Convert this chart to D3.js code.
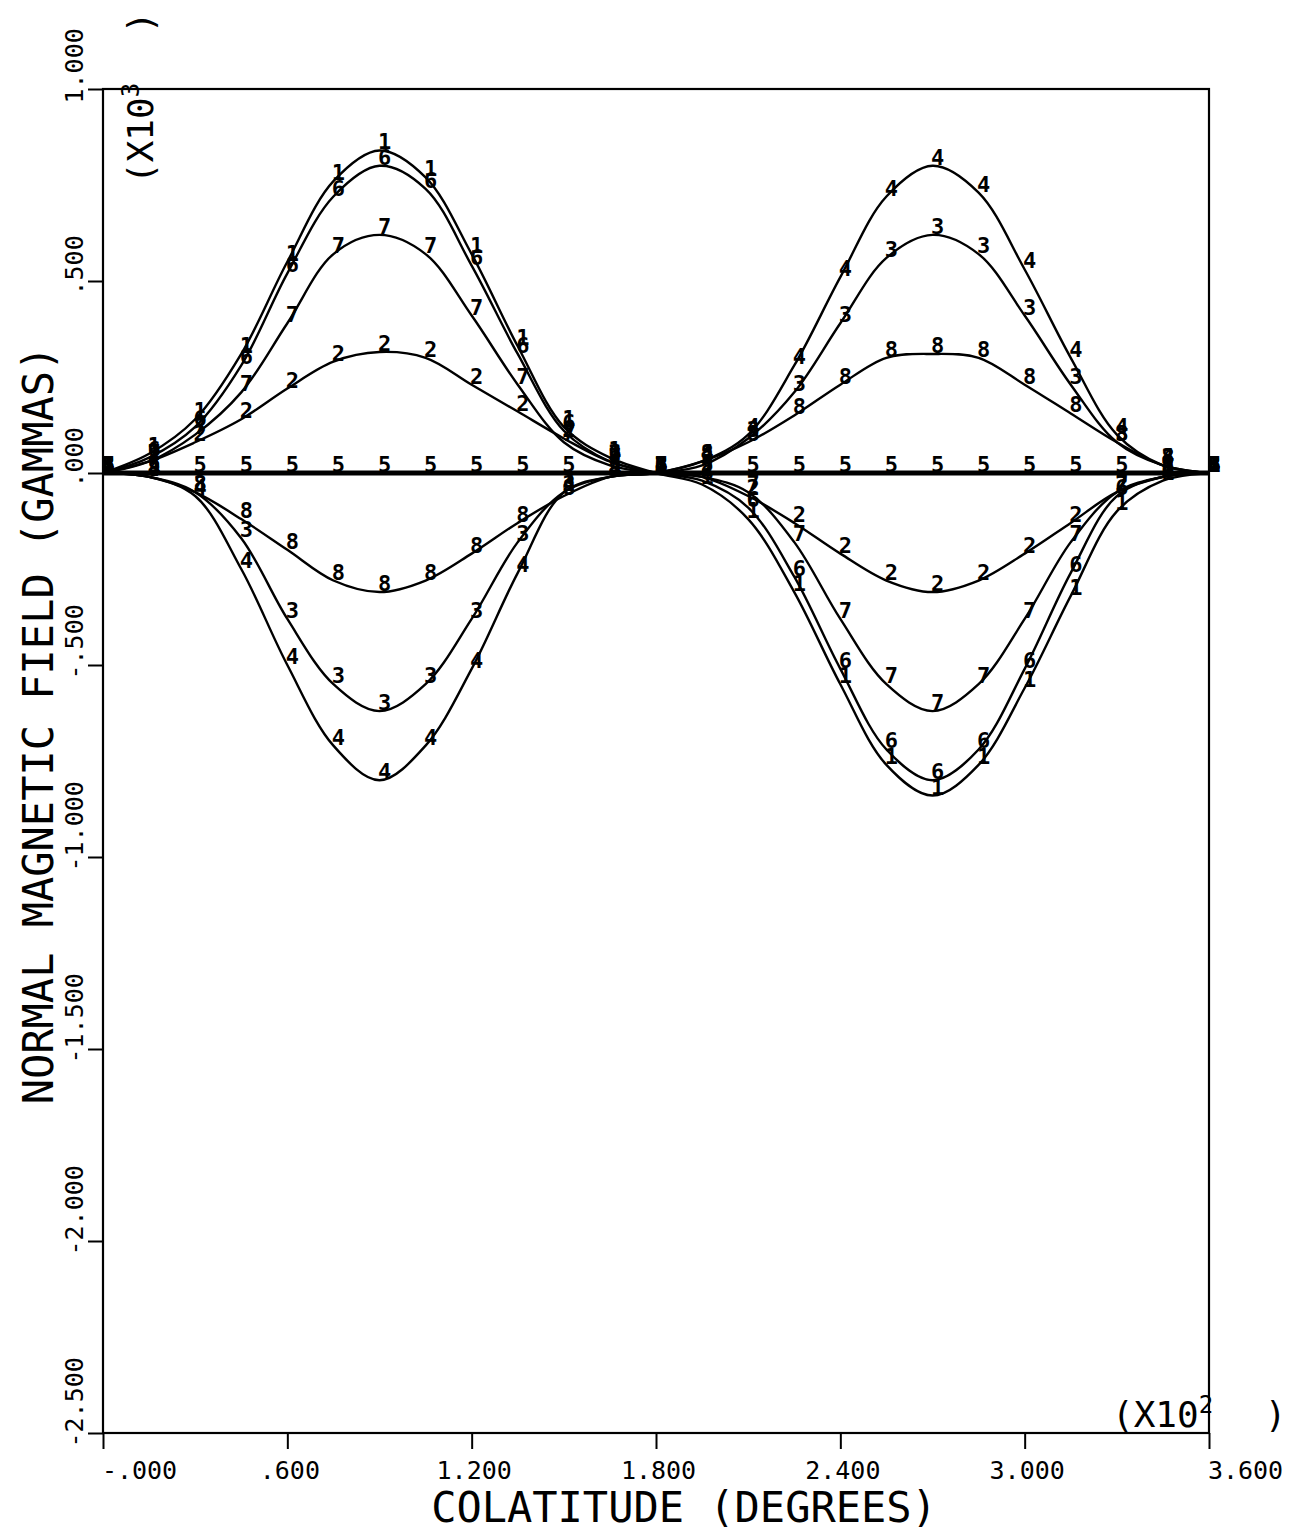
<!DOCTYPE html>
<html><head><meta charset="utf-8">
<script src="https://cdn.jsdelivr.net/npm/d3@7"></script>
<style>body{margin:0;background:#fff}svg{display:block}</style>
</head><body><svg id="c" width="1300" height="1534"></svg>
<script>
// Colatitude (x10^2 degrees)
const colatitude = [0,0.15,0.30,0.45,0.60,0.75,0.90,1.05,1.20,1.35,1.50,1.65,1.80,1.95,2.10,2.25,2.40,2.55,2.70,2.85,3.00,3.15,3.30,3.45,3.60];
// Normal magnetic field (x10^3 gammas), one array per numbered curve
const curve1 = [0,0.05,0.14,0.31,0.55,0.76,0.84,0.77,0.57,0.33,0.12,0.04,0,-0.03,-0.12,-0.31,-0.55,-0.76,-0.84,-0.76,-0.56,-0.32,-0.10,-0.02,0];
const curve2 = [0,0.03,0.08,0.14,0.22,0.29,0.315,0.30,0.23,0.16,0.09,0.03,0,-0.01,-0.06,-0.13,-0.21,-0.28,-0.31,-0.28,-0.21,-0.13,-0.05,-0.01,0];
const curve3 = [0,-0.01,-0.05,-0.17,-0.38,-0.55,-0.62,-0.55,-0.38,-0.18,-0.05,-0.01,0,0.02,0.09,0.21,0.39,0.56,0.62,0.57,0.41,0.23,0.08,0.02,0];
const curve4 = [0,-0.01,-0.06,-0.25,-0.50,-0.71,-0.80,-0.71,-0.51,-0.26,-0.05,-0.01,0,0.03,0.10,0.28,0.51,0.72,0.80,0.73,0.53,0.30,0.10,0.02,0];
const curve5 = [0,0,0,0,0,0,0,0,0,0,0,0,0,0,0,0,0,0,0,0,0,0,0,0,0];
const curve6 = [0,0.04,0.12,0.28,0.52,0.72,0.80,0.74,0.54,0.31,0.11,0.03,0,-0.02,-0.09,-0.27,-0.51,-0.72,-0.80,-0.72,-0.51,-0.26,-0.06,-0.01,0];
const curve7 = [0,0.03,0.10,0.21,0.39,0.57,0.62,0.57,0.41,0.23,0.08,0.02,0,-0.01,-0.05,-0.18,-0.38,-0.55,-0.62,-0.55,-0.38,-0.18,-0.05,-0.01,0];
const curve8 = [0,-0.01,-0.05,-0.12,-0.20,-0.28,-0.31,-0.28,-0.21,-0.13,-0.06,-0.01,0,0.03,0.08,0.15,0.23,0.30,0.31,0.30,0.23,0.155,0.08,0.02,0];
const curveLabels = ["1","2","3","4","5","6","7","8"];
const xTicks = [0,0.6,1.2,1.8,2.4,3.0,3.6];
const xTickLabels = ["-.000",".600","1.200","1.800","2.400","3.000","3.600"];
const yTicks = [1.0,0.5,0,-0.5,-1.0,-1.5,-2.0,-2.5];
const yTickLabels = ["1.000",".500",".000","-.500","-1.000","-1.500","-2.000","-2.500"];
const xTitle = "COLATITUDE (DEGREES)";
const yTitle = "NORMAL MAGNETIC FIELD (GAMMAS)";

const curves = [curve1,curve2,curve3,curve4,curve5,curve6,curve7,curve8];
const FONT = "'DejaVu Sans Mono', monospace";

const svg = d3.select("#c");
const x = d3.scaleLinear().domain([0,3.6]).range([103,1209]);
const y = d3.scaleLinear().domain([-2.5,1.0]).range([1433,89]);

// frame
svg.append("rect").attr("x",x(0)).attr("y",y(1)).attr("width",x(3.6)-x(0)).attr("height",y(-2.5)-y(1))
  .attr("fill","none").attr("stroke","#000").attr("stroke-width",2.2);

// x axis
const xa = svg.append("g").attr("transform",`translate(0,${y(-2.5)})`)
  .call(d3.axisBottom(x).tickValues(xTicks).tickSize(16).tickPadding(12).tickFormat((d,i)=>xTickLabels[i]));
xa.select(".domain").remove();
xa.selectAll("line").attr("stroke","#000").attr("stroke-width",2);
xa.selectAll("text").attr("font-family",FONT).attr("font-size",25).attr("fill","#000")
  .attr("dx",(d,i)=> (i===0||i===xTicks.length-1) ? 36 : 2);

// y axis
const ya = svg.append("g").attr("transform",`translate(${x(0)},0)`)
  .call(d3.axisLeft(y).tickValues(yTicks).tickSize(15).tickFormat((d,i)=>yTickLabels[i]));
ya.select(".domain").remove();
ya.selectAll("line").attr("stroke","#000").attr("stroke-width",2);
ya.selectAll("text").remove();
ya.selectAll(".tick").append("text")
  .attr("transform","translate(-20,14) rotate(-90)")
  .attr("text-anchor","start").attr("font-family",FONT).attr("font-size",25).attr("fill","#000")
  .text((d,i)=>yTickLabels[i]);

// titles
svg.append("text").attr("x",684).attr("y",1522).attr("text-anchor","middle")
  .attr("font-family",FONT).attr("font-size",42).attr("fill","#000").text(xTitle);
svg.append("text").attr("transform","translate(53,725) rotate(-90)").attr("text-anchor","middle")
  .attr("font-family",FONT).attr("font-size",42).attr("fill","#000").text(yTitle);

// scale factors
const sx = svg.append("text").attr("x",1112).attr("y",1427).attr("font-family",FONT).attr("font-size",36).attr("fill","#000");
sx.append("tspan").text("(X10");
sx.append("tspan").attr("font-size",24).attr("dy",-14).text("2");
sx.append("tspan").attr("dy",14).attr("dx",30).text("  )");
const sy = svg.append("text").attr("transform","translate(153,184) rotate(-90)").attr("font-family",FONT).attr("font-size",36).attr("fill","#000");
sy.append("tspan").text("(X10");
sy.append("tspan").attr("font-size",24).attr("dy",-14).text("3");
sy.append("tspan").attr("dy",14).attr("dx",28).text("  )");

// curves
const line = d3.line().x((d,i)=>x(colatitude[i])).y(d=>y(d)).curve(d3.curveCatmullRom.alpha(0.5));
const g = svg.append("g");
curves.forEach((c,k)=>{
  g.append("path").attr("d",line(c)).attr("fill","none").attr("stroke","#000")
    .attr("stroke-width", curveLabels[k]==="5" ? 5 : 2.4).attr("stroke-linejoin","round");
});
// markers (curve numbers at each data point)
curves.forEach((c,k)=>{
  g.selectAll(null).data(c).enter().append("text")
    .attr("x",(d,i)=>x(colatitude[i])+5).attr("y",d=>y(d)-1)
    .attr("text-anchor","middle").attr("font-family",FONT).attr("font-weight","bold")
    .attr("font-size",22).attr("fill","#000").text(curveLabels[k]);
});
</script></body></html>
